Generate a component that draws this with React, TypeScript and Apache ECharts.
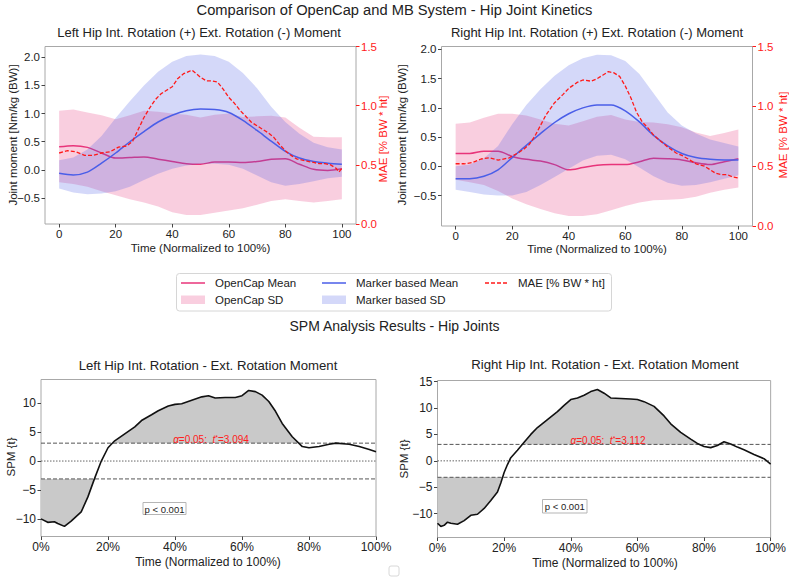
import React, { useEffect, useRef } from 'react';
import * as echarts from 'echarts';

// ---------- data ----------
const T = [0, 5, 10, 15, 20, 25, 30, 35, 40, 45, 50, 55, 60, 65, 70, 75, 80, 85, 90, 95, 100];
const X_TICKS = [0, 20, 40, 60, 80, 100];
const Y_TICKS_TOP = [-0.5, 0, 0.5, 1.0, 1.5, 2.0];
const Y_TICKS_SPM_L = [-10, -5, 0, 5, 10];
const Y_TICKS_SPM_R = [-10, -5, 0, 5, 10, 15];

// Left hip
const L_ocMean = [0.41, 0.43, 0.40, 0.30, 0.21, 0.22, 0.23, 0.19, 0.15, 0.11, 0.10, 0.14, 0.14, 0.13, 0.15, 0.19, 0.20, 0.10, 0.01, -0.01, 0.02];
const L_ocUp = [1.05, 1.07, 1.02, 0.97, 0.90, 0.97, 1.05, 1.03, 1.00, 0.98, 0.93, 0.98, 1.00, 0.94, 0.95, 0.96, 0.93, 0.75, 0.59, 0.58, 0.58];
const L_ocLo = [-0.22, -0.25, -0.30, -0.38, -0.45, -0.52, -0.58, -0.65, -0.75, -0.80, -0.80, -0.76, -0.72, -0.68, -0.62, -0.55, -0.52, -0.55, -0.58, -0.55, -0.52];
const L_mbMean = [-0.06, -0.09, -0.04, 0.12, 0.30, 0.50, 0.68, 0.85, 0.97, 1.05, 1.08, 1.07, 1.02, 0.88, 0.70, 0.51, 0.33, 0.21, 0.15, 0.12, 0.10];
const L_mbUp = [0.17, 0.22, 0.36, 0.60, 0.92, 1.22, 1.50, 1.74, 1.92, 2.02, 2.05, 2.02, 1.92, 1.72, 1.45, 1.12, 0.85, 0.64, 0.48, 0.40, 0.36];
const L_mbLo = [-0.33, -0.40, -0.43, -0.42, -0.38, -0.30, -0.18, -0.07, 0.02, 0.08, 0.11, 0.11, 0.09, 0.02, -0.10, -0.22, -0.28, -0.25, -0.20, -0.15, -0.12];
const L_maeT = [0, 3, 6, 9, 12, 15, 18, 21, 24, 26, 28, 30, 32, 34, 36, 38, 40, 42, 44, 46, 47, 48, 50, 52, 54, 56, 58, 60, 62, 64, 66, 68, 70, 72, 74, 76, 78, 80, 82, 84, 86, 88, 90, 92, 94, 96, 98, 99, 100];
const L_mae = [0.60, 0.62, 0.61, 0.58, 0.58, 0.60, 0.61, 0.65, 0.66, 0.70, 0.80, 0.90, 0.98, 1.05, 1.10, 1.13, 1.16, 1.23, 1.27, 1.29, 1.30, 1.28, 1.24, 1.21, 1.21, 1.20, 1.14, 1.07, 1.02, 0.96, 0.91, 0.86, 0.83, 0.80, 0.77, 0.73, 0.67, 0.62, 0.58, 0.55, 0.54, 0.53, 0.52, 0.51, 0.51, 0.50, 0.47, 0.44, 0.47];

// Right hip
const R_ocMean = [0.22, 0.22, 0.26, 0.26, 0.17, 0.12, 0.09, 0.03, -0.06, -0.02, 0.02, 0.03, 0.03, 0.08, 0.14, 0.13, 0.11, 0.06, 0.03, 0.08, 0.13];
const R_ocUp = [0.73, 0.75, 0.83, 0.90, 0.90, 0.87, 0.80, 0.73, 0.70, 0.77, 0.85, 0.88, 0.80, 0.76, 0.75, 0.72, 0.67, 0.58, 0.52, 0.57, 0.63];
const R_ocLo = [-0.23, -0.27, -0.32, -0.42, -0.55, -0.65, -0.73, -0.80, -0.85, -0.85, -0.82, -0.75, -0.68, -0.62, -0.58, -0.57, -0.56, -0.52, -0.45, -0.40, -0.36];
const R_mbMean = [-0.21, -0.21, -0.17, -0.06, 0.15, 0.36, 0.56, 0.75, 0.90, 1.00, 1.05, 1.05, 0.95, 0.76, 0.53, 0.35, 0.22, 0.15, 0.12, 0.11, 0.11];
const R_mbUp = [0.00, 0.03, 0.14, 0.35, 0.72, 1.05, 1.32, 1.55, 1.73, 1.85, 1.91, 1.90, 1.80, 1.58, 1.25, 0.92, 0.70, 0.56, 0.46, 0.40, 0.34];
const R_mbLo = [-0.40, -0.44, -0.48, -0.50, -0.50, -0.44, -0.32, -0.18, -0.04, 0.10, 0.18, 0.20, 0.12, -0.02, -0.17, -0.28, -0.33, -0.32, -0.27, -0.21, -0.15];
const R_maeT = [0, 3, 6, 9, 12, 15, 19, 22, 24, 26, 28, 30, 32, 35, 38, 40, 43, 45, 48, 50, 52, 54, 56, 58, 60, 62, 64, 66, 68, 70, 72, 75, 78, 80, 83, 85, 88, 90, 92, 94, 96, 98, 100];
const R_mae = [0.52, 0.52, 0.53, 0.56, 0.57, 0.55, 0.57, 0.61, 0.64, 0.68, 0.75, 0.84, 0.93, 1.03, 1.10, 1.15, 1.20, 1.22, 1.21, 1.23, 1.26, 1.29, 1.28, 1.25, 1.17, 1.07, 0.95, 0.87, 0.82, 0.76, 0.72, 0.66, 0.61, 0.59, 0.55, 0.52, 0.50, 0.47, 0.44, 0.43, 0.43, 0.41, 0.40];

// SPM
const SPM_L_T = [0, 2, 4, 5, 7, 9, 12, 14, 16, 18, 20, 22, 25, 28, 30, 33, 35, 38, 40, 42, 45, 48, 50, 52, 55, 58, 60, 62, 64, 66, 68, 70, 72, 75, 78, 80, 83, 86, 88, 92, 95, 98, 100];
const SPM_L = [-10.0, -10.6, -10.5, -10.8, -11.3, -10.4, -8.8, -6.2, -3.0, 0.0, 2.3, 3.5, 4.7, 5.9, 7.0, 8.0, 8.7, 9.5, 9.8, 9.9, 10.5, 11.1, 11.3, 10.9, 11.0, 11.0, 11.3, 12.2, 12.0, 11.4, 10.3, 8.6, 6.5, 4.2, 2.5, 2.3, 2.5, 2.9, 3.1, 2.9, 2.5, 2.0, 1.6];
const SPM_R_T = [0, 1, 2, 3, 4, 6, 8, 10, 12, 14, 16, 18, 19, 20, 21, 22, 24, 26, 28, 30, 33, 36, 38, 40, 42, 44, 46, 48, 50, 52, 55, 58, 60, 62, 65, 68, 70, 73, 76, 78, 80, 82, 84, 86, 88, 90, 92, 95, 98, 100];
const SPM_R = [-11.8, -12.4, -12.2, -11.6, -11.8, -12.0, -11.3, -10.3, -10.1, -9.0, -7.5, -5.9, -4.2, -2.2, -0.7, 0.6, 2.0, 3.5, 5.0, 6.3, 7.8, 9.3, 10.5, 11.6, 11.9, 12.4, 13.1, 13.5, 12.8, 11.9, 11.8, 11.7, 11.6, 11.2, 10.3, 8.5, 7.0, 5.4, 4.1, 3.3, 2.7, 2.5, 2.9, 3.6, 3.2, 2.6, 2.1, 1.2, 0.4, -0.6];
const THR_L = 3.094;
const THR_R = 3.112;

// ---------- styles ----------
const FONT = '"Liberation Sans", Arial, Helvetica, sans-serif';
const PINK = '#e8347a';
const BLUE = '#4a5ee8';
const RED = '#ff1a1a';
const PINK_FILL = 'rgba(232,52,122,0.24)';
const BLUE_FILL = 'rgba(74,94,232,0.24)';
const FRAME = '#a8a8a8';
const TXT = '#222';

const minusFmt1 = (v: number) => (v < 0 ? '\u2212' : '') + Math.abs(v).toFixed(1);
const minusFmt0 = (v: number) => (v < 0 ? '\u2212' : '') + Math.abs(Math.round(v));

function pairs(t: number[], v: number[]) {
  return t.map((x, i) => [x, v[i]]);
}

function band(xi: number, yi: number, t: number[], lo: number[], hi: number[], color: string, z: number) {
  return {
    type: 'custom', xAxisIndex: xi, yAxisIndex: yi, z, silent: true, clip: true,
    data: [[t[0], lo[0]]],
    renderItem: (_p: any, api: any) => {
      const pts: number[][] = [];
      for (let i = 0; i < t.length; i++) pts.push(api.coord([t[i], hi[i]]));
      for (let i = t.length - 1; i >= 0; i--) pts.push(api.coord([t[i], lo[i]]));
      return { type: 'polygon', shape: { points: pts }, style: { fill: color, stroke: 'none' } };
    },
  };
}

function clusters(t: number[], v: number[], thr: number) {
  const polys: number[][][] = [];
  for (const s of [1, -1]) {
    const h = s * thr;
    let cur: number[][] | null = null;
    for (let i = 0; i < t.length; i++) {
      const above = s * v[i] > thr;
      if (above) {
        if (!cur) {
          cur = [];
          if (i > 0) {
            const f = (h - v[i - 1]) / (v[i] - v[i - 1]);
            cur.push([t[i - 1] + f * (t[i] - t[i - 1]), h]);
          } else cur.push([t[0], h]);
        }
        cur.push([t[i], v[i]]);
      } else if (cur) {
        const f = (h - v[i - 1]) / (v[i] - v[i - 1]);
        cur.push([t[i - 1] + f * (t[i] - t[i - 1]), h]);
        polys.push(cur);
        cur = null;
      }
    }
    if (cur) { cur.push([t[t.length - 1], h]); polys.push(cur); }
  }
  return polys;
}

function clusterSeries(xi: number, yi: number, t: number[], v: number[], thr: number) {
  const polys = clusters(t, v, thr);
  return {
    type: 'custom', xAxisIndex: xi, yAxisIndex: yi, z: 1, silent: true, clip: true,
    data: [[t[0], v[0]]],
    renderItem: (_p: any, api: any) => ({
      type: 'group',
      children: polys.map((p) => ({
        type: 'polygon',
        shape: { points: p.map((q) => api.coord(q)) },
        style: { fill: '#c9c9c9', stroke: 'none' },
      })),
    }),
  };
}

function line(xi: number, yi: number, t: number[], v: number[], color: string, z: number, opts: any = {}) {
  return {
    type: 'line', xAxisIndex: xi, yAxisIndex: yi, z, silent: true,
    showSymbol: false, symbol: 'none', smooth: opts.smooth ?? false,
    data: pairs(t, v),
    lineStyle: { color, width: opts.width ?? 1.5, type: opts.type ?? 'solid' },
  };
}

function hline(xi: number, yi: number, y: number, type: any, color: string) {
  return {
    type: 'line', xAxisIndex: xi, yAxisIndex: yi, z: 2, silent: true,
    showSymbol: false, symbol: 'none',
    data: [[0, y], [100, y]],
    lineStyle: { color, width: 1, type },
  };
}

const tickStyle = { show: true, length: 3.5, lineStyle: { color: '#444', width: 1 } };
const noLine = { show: false, onZero: false };

function topX(grid: number) {
  return {
    type: 'value', gridIndex: grid, min: -5, max: 105,
    axisLine: noLine, splitLine: { show: false },
    axisTick: { ...tickStyle, customValues: X_TICKS },
    axisLabel: { customValues: X_TICKS, color: TXT, fontSize: 11.5, fontFamily: FONT, margin: 4, formatter: (v: number) => String(v) },
  };
}
function topYL(grid: number, min: number, max: number) {
  return {
    type: 'value', gridIndex: grid, position: 'left', min, max,
    axisLine: noLine, splitLine: { show: false },
    axisTick: { ...tickStyle, customValues: Y_TICKS_TOP },
    axisLabel: { customValues: Y_TICKS_TOP, color: TXT, fontSize: 11.5, fontFamily: FONT, margin: 5, formatter: minusFmt1 },
  };
}
function topYR(grid: number) {
  return {
    type: 'value', gridIndex: grid, position: 'right', min: 0, max: 1.5, interval: 0.5,
    axisLine: noLine, splitLine: { show: false },
    axisTick: { show: true, length: 3.5, lineStyle: { color: RED, width: 1 } },
    axisLabel: { color: RED, fontSize: 11.5, fontFamily: FONT, margin: 5, formatter: (v: number) => v.toFixed(1) },
  };
}
function spmX(grid: number) {
  return {
    type: 'value', gridIndex: grid, min: 0, max: 100, interval: 20,
    axisLine: noLine, splitLine: { show: false },
    axisTick: { ...tickStyle },
    axisLabel: { color: TXT, fontSize: 12, fontFamily: FONT, margin: 4, formatter: (v: number) => v + '%' },
  };
}
function spmY(grid: number, min: number, max: number, ticks: number[]) {
  return {
    type: 'value', gridIndex: grid, min, max,
    axisLine: noLine, splitLine: { show: false },
    axisTick: { ...tickStyle, customValues: ticks },
    axisLabel: { customValues: ticks, color: TXT, fontSize: 12, fontFamily: FONT, margin: 5, formatter: minusFmt0 },
  };
}

function txt(x: number, y: number, text: string, size: number, extra: any = {}) {
  const { fill, align, rotation, ...rest } = extra;
  return {
    type: 'text', x, y, rotation: rotation ?? 0, silent: true, z: 10,
    style: { text, fill: fill ?? TXT, fontSize: size, fontFamily: FONT, align: align ?? 'center', verticalAlign: 'middle', ...rest },
  };
}

function threshText(x: number, y: number, val: number) {
  return {
    type: 'text', x, y, silent: true, z: 10,
    style: {
      text: `{i|\u03b1}=0.05:  {i|t}{s|*}=${val.toFixed(3)}`,
      fill: '#ff2020', fontSize: 10, fontFamily: FONT, align: 'center', verticalAlign: 'middle',
      rich: {
        i: { fontStyle: 'italic', fontSize: 10, fill: '#ff2020', fontFamily: FONT },
        s: { fontSize: 7, fill: '#ff2020', verticalAlign: 'top', padding: [0, 0, 5, 0], fontFamily: FONT },
      },
    },
  };
}

function pBox(x: number, y: number, w: number, h: number) {
  return [
    { type: 'rect', shape: { x, y, width: w, height: h }, style: { fill: '#fff', stroke: '#b5b5b5', lineWidth: 1 }, z: 9, silent: true },
    txt(x + w / 2, y + h / 2 + 0.5, 'p < 0.001', 9.5, {}),
  ];
}

export default function App() {
  const ref = useRef<HTMLDivElement>(null);
  useEffect(() => {
    if (!ref.current) return;
    const chart = echarts.init(ref.current, undefined, { renderer: 'svg', width: 789, height: 577 });
    const gridBase = { show: true, borderColor: FRAME, borderWidth: 1, backgroundColor: 'transparent', containLabel: false };
    const option: any = {
      animation: false,
      backgroundColor: '#ffffff',
      textStyle: { fontFamily: FONT },
      grid: [
        { ...gridBase, left: 45, top: 46.5, width: 311, height: 177.5 },
        { ...gridBase, left: 441.5, top: 46.5, width: 311, height: 179.5 },
        { ...gridBase, left: 41, top: 379.5, width: 335, height: 157 },
        { ...gridBase, left: 437.5, top: 380.5, width: 335, height: 157 },
      ],
      xAxis: [topX(0), topX(1), spmX(2), spmX(3)],
      yAxis: [
        topYL(0, -0.96, 2.19), topYR(0),
        topYL(1, -1.02, 2.05), topYR(1),
        spmY(2, -13.05, 14.1, Y_TICKS_SPM_L),
        spmY(3, -14.5, 15.2, Y_TICKS_SPM_R),
      ],
      series: [
        band(0, 0, T, L_ocLo, L_ocUp, PINK_FILL, 1),
        line(0, 0, T, L_ocMean, PINK, 2, { smooth: 0.3 }),
        band(0, 0, T, L_mbLo, L_mbUp, BLUE_FILL, 3),
        line(0, 0, T, L_mbMean, BLUE, 4, { smooth: 0.3 }),
        line(0, 1, L_maeT, L_mae, RED, 5, { width: 1.3, type: [4, 2] }),

        band(1, 2, T, R_ocLo, R_ocUp, PINK_FILL, 1),
        line(1, 2, T, R_ocMean, PINK, 2, { smooth: 0.3 }),
        band(1, 2, T, R_mbLo, R_mbUp, BLUE_FILL, 3),
        line(1, 2, T, R_mbMean, BLUE, 4, { smooth: 0.3 }),
        line(1, 3, R_maeT, R_mae, RED, 5, { width: 1.3, type: [4, 2] }),

        clusterSeries(2, 4, SPM_L_T, SPM_L, THR_L),
        hline(2, 4, THR_L, [4, 2], '#555'),
        hline(2, 4, -THR_L, [4, 2], '#555'),
        hline(2, 4, 0, [1.5, 1.5], '#666'),
        line(2, 4, SPM_L_T, SPM_L, '#111', 5, { width: 1.6 }),

        clusterSeries(3, 5, SPM_R_T, SPM_R, THR_R),
        hline(3, 5, THR_R, [4, 2], '#555'),
        hline(3, 5, -THR_R, [4, 2], '#555'),
        hline(3, 5, 0, [1.5, 1.5], '#666'),
        line(3, 5, SPM_R_T, SPM_R, '#111', 5, { width: 1.6 }),
      ],
      graphic: [
        txt(394.5, 10, 'Comparison of OpenCap and MB System - Hip Joint Kinetics', 14.7),
        txt(199, 32, 'Left Hip Int. Rotation (+) Ext. Rotation (-) Moment', 13),
        txt(597, 32, 'Right Hip Int. Rotation (+) Ext. Rotation (-) Moment', 13),
        txt(200.5, 247.5, 'Time (Normalized to 100%)', 11.5),
        txt(597, 248.5, 'Time (Normalized to 100%)', 11.5),
        txt(12.5, 135, 'Joint moment [Nm/kg (BW)]', 11.5, { rotation: Math.PI / 2 }),
        txt(402, 135, 'Joint moment [Nm/kg (BW)]', 11.5, { rotation: Math.PI / 2 }),
        txt(383, 139, 'MAE [% BW * ht]', 11.5, { rotation: Math.PI / 2, fill: RED }),
        txt(783, 135, 'MAE [% BW * ht]', 11.5, { rotation: Math.PI / 2, fill: RED }),

        // legend
        { type: 'rect', shape: { x: 176.5, y: 273.5, width: 435, height: 37.5, r: 3 }, style: { fill: '#fff', stroke: '#d6d6d6', lineWidth: 1 }, z: 8, silent: true },
        { type: 'line', shape: { x1: 181, y1: 283, x2: 205, y2: 283 }, style: { stroke: PINK, lineWidth: 1.5 }, z: 9, silent: true },
        { type: 'line', shape: { x1: 322, y1: 283, x2: 346, y2: 283 }, style: { stroke: BLUE, lineWidth: 1.5 }, z: 9, silent: true },
        { type: 'line', shape: { x1: 485, y1: 283, x2: 507, y2: 283 }, style: { stroke: RED, lineWidth: 1.3, lineDash: [4, 2] }, z: 9, silent: true },
        { type: 'rect', shape: { x: 181, y: 295.5, width: 24, height: 8.5 }, style: { fill: PINK_FILL }, z: 9, silent: true },
        { type: 'rect', shape: { x: 322, y: 295.5, width: 24, height: 8.5 }, style: { fill: BLUE_FILL }, z: 9, silent: true },
        txt(215, 283, 'OpenCap Mean', 11.5, { align: 'left' }),
        txt(215, 300, 'OpenCap SD', 11.5, { align: 'left' }),
        txt(356, 283, 'Marker based Mean', 11.5, { align: 'left' }),
        txt(356, 300, 'Marker based SD', 11.5, { align: 'left' }),
        txt(518, 283, 'MAE [% BW * ht]', 11.5, { align: 'left' }),

        txt(394.5, 326, 'SPM Analysis Results - Hip Joints', 14),
        txt(208, 365, 'Left Hip Int. Rotation - Ext. Rotation Moment', 13.2),
        txt(605, 364, 'Right Hip Int. Rotation - Ext. Rotation Moment', 13.2),
        txt(208, 562, 'Time (Normalized to 100%)', 12),
        txt(605, 563, 'Time (Normalized to 100%)', 12),
        txt(11, 457, 'SPM {t}', 11.5, { rotation: Math.PI / 2 }),
        txt(404, 459, 'SPM {t}', 11.5, { rotation: Math.PI / 2 }),
        threshText(211, 439.5, THR_L),
        threshText(608, 440.5, THR_R),
        ...pBox(143, 502.5, 43, 12),
        ...pBox(542.5, 499.5, 44.5, 13.5),
        { type: 'rect', shape: { x: 389, y: 566, width: 10, height: 10, r: 2 }, style: { fill: '#fff', stroke: '#d8d8d8', lineWidth: 1 }, z: 9, silent: true },
      ],
    };
    chart.setOption(option);
    return () => chart.dispose();
  }, []);
  return <div ref={ref} style={{ position: 'absolute', left: 0, top: 0, width: 789, height: 577, background: '#fff' }} />;
}
